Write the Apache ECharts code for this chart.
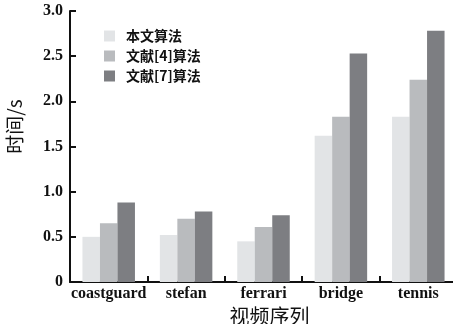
<!DOCTYPE html>
<html>
<head>
<meta charset="utf-8">
<script src="https://cdn.jsdelivr.net/npm/echarts@6/dist/echarts.min.js"></script>
<style>
  html, body { margin: 0; padding: 0; background: #fff; }
  #chart { width: 453px; height: 324px; }
</style>
</head>
<body>
<div id="chart"></div>
<script>
// Video sequences on the x axis
const categories = ['coastguard', 'stefan', 'ferrari', 'bridge', 'tennis'];

// Running time (s) of each algorithm
const seriesNames = ['本文算法', '文献[4]算法', '文献[7]算法'];
const oursTimes = [0.50, 0.52, 0.45, 1.62, 1.83];
const ref4Times = [0.65, 0.70, 0.61, 1.83, 2.24];
const ref7Times = [0.88, 0.78, 0.74, 2.53, 2.78];

const barColors = ['#e2e4e6', '#b9bbbe', '#7d7e82'];

const serif = '"Liberation Serif", "DejaVu Serif", serif';
const cjk = '"Noto Sans CJK SC", "Noto Sans", sans-serif';

const chart = echarts.init(document.getElementById('chart'), null, { renderer: 'canvas' });

const axisLineStyle = { color: '#111', width: 2 };

chart.setOption({
  animation: false,
  backgroundColor: '#ffffff',
  grid: { left: 70, top: 11, bottom: 42, width: 387, containLabel: false, outerBoundsMode: 'none' },
  legend: {
    orient: 'vertical',
    left: 99,
    top: 24,
    itemWidth: 11,
    itemHeight: 11,
    itemGap: 6,
    icon: 'rect',
    data: seriesNames,
    textStyle: { fontFamily: cjk, fontSize: 14, fontWeight: 'bold', color: '#111', padding: [0, 0, 0, 6] }
  },
  xAxis: {
    type: 'category',
    data: categories,
    boundaryGap: true,
    name: '视频序列',
    nameLocation: 'middle',
    nameGap: 19,
    nameTextStyle: { fontFamily: cjk, fontSize: 20, color: '#111', padding: [0, 0, 0, 12] },
    axisLine: { lineStyle: axisLineStyle },
    axisTick: { show: true, inside: true, length: 6, lineStyle: axisLineStyle },
    axisLabel: { interval: 0, fontFamily: serif, fontSize: 16, fontWeight: 'bold', color: '#111', margin: 4 },
    splitLine: { show: false }
  },
  yAxis: {
    type: 'value',
    min: 0,
    max: 3,
    interval: 0.5,
    name: '时间/s',
    nameLocation: 'middle',
    nameGap: 46,
    nameRotate: 90,
    nameTextStyle: { fontFamily: cjk, fontSize: 19, color: '#111', padding: [0, 0, 0, 40] },
    axisLine: { show: true, lineStyle: axisLineStyle },
    axisTick: { show: true, inside: true, length: 6, lineStyle: axisLineStyle },
    axisLabel: {
      fontFamily: serif, fontSize: 16, fontWeight: 'bold', color: '#111', margin: 7,
      formatter: v => (v === 0 ? '0' : v.toFixed(1))
    },
    splitLine: { show: false }
  },
  series: [
    { name: seriesNames[0], type: 'bar', data: oursTimes, barWidth: 17.5, barGap: '0%', itemStyle: { color: barColors[0] } },
    { name: seriesNames[1], type: 'bar', data: ref4Times, barWidth: 17.5, barGap: '0%', itemStyle: { color: barColors[1] } },
    { name: seriesNames[2], type: 'bar', data: ref7Times, barWidth: 17.5, barGap: '0%', itemStyle: { color: barColors[2] } }
  ]
});
</script>
</body>
</html>
